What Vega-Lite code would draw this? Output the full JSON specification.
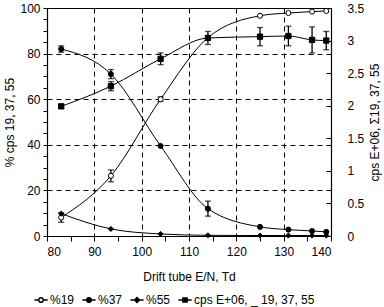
{
  "$schema": "https://vega.github.io/schema/vega-lite/v6.json",
  "width": 284,
  "height": 228,
  "autosize": {"type": "none"},
  "padding": {"left": 47, "top": 8, "right": 53, "bottom": 71},
  "config": {
    "font": "Liberation Sans",
    "view": {"stroke": "black", "strokeWidth": 1},
    "axis": {
      "labelFont": "Liberation Sans", "labelFontSize": 12, "labelColor": "black",
      "titleFont": "Liberation Sans", "titleFontSize": 12, "titleFontWeight": "normal", "titleColor": "black",
      "domainColor": "black", "domainWidth": 1.2, "tickColor": "black", "tickWidth": 1,
      "gridColor": "black", "gridDash": [5, 4], "gridWidth": 1
    },
    "legend": {
      "labelFont": "Liberation Sans", "labelFontSize": 12, "labelColor": "black", "padding": 0
    }
  },
  "data": {
    "values": [
      {"series": "%19", "x": 83, "v": 8.1, "lo": 6.0, "hi": 10.2},
      {"series": "%19", "x": 93.5, "v": 26.4, "lo": 23.8, "hi": 29.0},
      {"series": "%19", "x": 104, "v": 60.0, "lo": 59.0, "hi": 61.0},
      {"series": "%19", "x": 114, "v": 87.0},
      {"series": "%19", "x": 125, "v": 96.6},
      {"series": "%19", "x": 131, "v": 97.8},
      {"series": "%19", "x": 136, "v": 98.4},
      {"series": "%19", "x": 139, "v": 98.7},
      {"series": "%37", "x": 83, "v": 82.0, "lo": 80.6, "hi": 83.4},
      {"series": "%37", "x": 93.5, "v": 71.0, "lo": 69.0, "hi": 73.0},
      {"series": "%37", "x": 104, "v": 39.5},
      {"series": "%37", "x": 114, "v": 12.0, "lo": 8.7, "hi": 15.3},
      {"series": "%37", "x": 125, "v": 4.0},
      {"series": "%37", "x": 131, "v": 2.8},
      {"series": "%37", "x": 136, "v": 2.2},
      {"series": "%37", "x": 139, "v": 1.8},
      {"series": "%55", "x": 83, "v": 9.8},
      {"series": "%55", "x": 93.5, "v": 3.1},
      {"series": "%55", "x": 104, "v": 0.9},
      {"series": "%55", "x": 114, "v": 0.3},
      {"series": "%55", "x": 125, "v": 0.2},
      {"series": "%55", "x": 131, "v": 0.2},
      {"series": "%55", "x": 136, "v": 0.2},
      {"series": "%55", "x": 139, "v": 0.2},
      {"series": "cps E+06, _ 19, 37, 55", "x": 83, "v": 1.99, "lo": 1.96, "hi": 2.02},
      {"series": "cps E+06, _ 19, 37, 55", "x": 93.5, "v": 2.30, "lo": 2.23, "hi": 2.37},
      {"series": "cps E+06, _ 19, 37, 55", "x": 104, "v": 2.72, "lo": 2.63, "hi": 2.81},
      {"series": "cps E+06, _ 19, 37, 55", "x": 114, "v": 3.04, "lo": 2.94, "hi": 3.14},
      {"series": "cps E+06, _ 19, 37, 55", "x": 125, "v": 3.06, "lo": 2.92, "hi": 3.20},
      {"series": "cps E+06, _ 19, 37, 55", "x": 131, "v": 3.07, "lo": 2.92, "hi": 3.22},
      {"series": "cps E+06, _ 19, 37, 55", "x": 136, "v": 3.01, "lo": 2.81, "hi": 3.21},
      {"series": "cps E+06, _ 19, 37, 55", "x": 139, "v": 3.00, "lo": 2.86, "hi": 3.14}
    ]
  },
  "encoding": {
    "x": {
      "field": "x", "type": "quantitative",
      "scale": {"domain": [80, 140], "nice": false, "zero": false},
      "axis": {
        "title": "Drift tube E/N, Td",
        "values": [80, 85, 90, 95, 100, 105, 110, 115, 120, 125, 130, 135, 140],
        "labelExpr": "datum.value % 10 === 0 ? datum.label : ''",
        "gridOpacity": {"condition": {"test": "datum.value % 10 !== 0 || datum.value === 80 || datum.value === 140", "value": 0}, "value": 1},
        "tickSize": 5, "labelPadding": 5, "titlePadding": 14
      }
    }
  },
  "layer": [
    {
      "transform": [{"filter": "datum.series !== 'cps E+06, _ 19, 37, 55'"}],
      "encoding": {
        "y": {
          "field": "v", "type": "quantitative", "title": "% cps 19, 37, 55",
          "scale": {"domain": [0, 100], "nice": false},
          "axis": {
            "orient": "left",
            "values": [0, 5, 10, 15, 20, 25, 30, 35, 40, 45, 50, 55, 60, 65, 70, 75, 80, 85, 90, 95, 100],
            "labelExpr": "datum.value % 20 === 0 ? datum.label : ''",
            "gridOpacity": {"condition": {"test": "datum.value % 20 !== 0 || datum.value === 0 || datum.value === 100", "value": 0}, "value": 1},
            "tickSize": 4, "labelPadding": 3, "titlePadding": 3
          }
        }
      },
      "layer": [
        {"mark": {"type": "line", "interpolate": "monotone", "color": "black", "strokeWidth": 1}, "encoding": {"detail": {"field": "series"}}},
        {"transform": [{"filter": "isValid(datum.lo)"}], "mark": {"type": "rule", "color": "black", "strokeWidth": 1.3}, "encoding": {"y": {"field": "lo", "type": "quantitative", "title": "% cps 19, 37, 55"}, "y2": {"field": "hi"}}},
        {"transform": [{"filter": "isValid(datum.lo)"}], "mark": {"type": "tick", "orient": "horizontal", "color": "black", "size": 6, "thickness": 1.3}, "encoding": {"y": {"field": "lo", "type": "quantitative", "title": "% cps 19, 37, 55"}}},
        {"transform": [{"filter": "isValid(datum.lo)"}], "mark": {"type": "tick", "orient": "horizontal", "color": "black", "size": 6, "thickness": 1.3}, "encoding": {"y": {"field": "hi", "type": "quantitative", "title": "% cps 19, 37, 55"}}},
        {
          "mark": {"type": "point", "filled": true, "stroke": "black", "strokeWidth": 1, "size": 26, "opacity": 1},
          "encoding": {
            "shape": {"field": "series", "type": "nominal", "scale": {"domain": ["%19", "%37", "%55"], "range": ["circle", "circle", "diamond"]}, "legend": null},
            "fill": {"field": "series", "type": "nominal", "scale": {"domain": ["%19", "%37", "%55"], "range": ["white", "black", "black"]}, "legend": null}
          }
        }
      ]
    },
    {
      "transform": [{"filter": "datum.series === 'cps E+06, _ 19, 37, 55'"}],
      "encoding": {
        "y": {
          "field": "v", "type": "quantitative", "title": "cps E+06, Σ19, 37, 55",
          "scale": {"domain": [0, 3.5], "nice": false},
          "axis": {
            "orient": "right", "grid": false, "format": "~g",
            "values": [0, 0.5, 1, 1.5, 2, 2.5, 3, 3.5],
            "tickSize": -5, "labelPadding": 21, "titlePadding": 18, "titleAngle": -90
          }
        }
      },
      "layer": [
        {"mark": {"type": "line", "interpolate": "monotone", "color": "black", "strokeWidth": 1}, "encoding": {}},
        {"mark": {"type": "rule", "color": "black", "strokeWidth": 1.3}, "encoding": {"y": {"field": "lo", "type": "quantitative", "title": "cps E+06, Σ19, 37, 55"}, "y2": {"field": "hi"}}},
        {"mark": {"type": "tick", "orient": "horizontal", "color": "black", "size": 6, "thickness": 1.3}, "encoding": {"y": {"field": "lo", "type": "quantitative", "title": "cps E+06, Σ19, 37, 55"}}},
        {"mark": {"type": "tick", "orient": "horizontal", "color": "black", "size": 6, "thickness": 1.3}, "encoding": {"y": {"field": "hi", "type": "quantitative", "title": "cps E+06, Σ19, 37, 55"}}},
        {
          "mark": {"type": "point", "filled": true, "stroke": "black", "strokeWidth": 1, "size": 28, "opacity": 1, "shape": "square", "fill": "black"},
          "encoding": {}
        }
      ]
    },
    {
      "mark": {"type": "point", "filled": true, "opacity": 0, "size": 26, "stroke": "black", "strokeWidth": 1},
      "encoding": {
        "y": {"field": "v", "type": "quantitative", "axis": null, "scale": {"domain": [0, 100], "nice": false}},
        "shape": {
          "field": "series", "type": "nominal",
          "scale": {"domain": ["%19", "%37", "%55", "cps E+06, _ 19, 37, 55"], "range": [
            "M-1.9,0H-0.65M0.65,0H1.9M-0.65,0A0.65,0.65,0,1,1,0.65,0A0.65,0.65,0,1,1,-0.65,0Z",
            "M-1.9,0H-0.65M0.65,0H1.9M-0.65,0A0.65,0.65,0,1,1,0.65,0A0.65,0.65,0,1,1,-0.65,0Z",
            "M-1.9,0H-0.7M0.7,0H1.9M0,-0.7L0.7,0L0,0.7L-0.7,0Z",
            "M-1.9,0H-0.6M0.6,0H1.9M-0.6,-0.6H0.6V0.6H-0.6Z"
          ]},
          "legend": {
            "title": null, "orient": "none", "legendX": -12, "legendY": 286, "direction": "horizontal",
            "symbolSize": 49, "symbolOpacity": 1,
            "labelOffset": 3, "columnPadding": 4,
            "encode": {"symbols": {"update": {"stroke": {"value": "black"}, "strokeWidth": {"value": 1}, "opacity": {"value": 1}}}}
          }
        },
        "fill": {
          "field": "series", "type": "nominal",
          "scale": {"domain": ["%19", "%37", "%55", "cps E+06, _ 19, 37, 55"], "range": ["white", "black", "black", "black"]},
          "legend": {
            "title": null, "orient": "none", "legendX": -12, "legendY": 286, "direction": "horizontal",
            "symbolSize": 49, "symbolOpacity": 1,
            "labelOffset": 3, "columnPadding": 4,
            "encode": {"symbols": {"update": {"stroke": {"value": "black"}, "strokeWidth": {"value": 1}, "opacity": {"value": 1}}}}
          }
        }
      }
    }
  ],
  "resolve": {"scale": {"y": "independent", "shape": "independent", "fill": "independent"}}
}
